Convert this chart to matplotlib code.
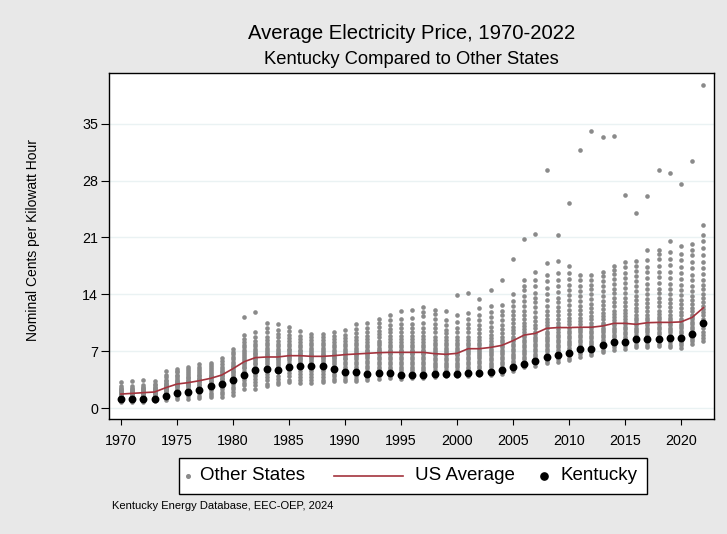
import matplotlib
matplotlib.use("Agg")
import matplotlib.pyplot as plt
from matplotlib.lines import Line2D
from matplotlib.patches import Rectangle

plt.rcParams['font.family'] = ['Liberation Sans', 'DejaVu Sans']

years = list(range(1970, 2023))

kentucky = [1.15, 1.15, 1.15, 1.15, 1.48, 1.89, 1.93, 2.18, 2.71, 2.95,
            3.45, 4.06, 4.63, 4.80, 4.68, 5.09, 5.21, 5.21, 5.17, 4.84,
            4.47, 4.39, 4.18, 4.27, 4.27, 4.06, 4.02, 4.02, 4.14, 4.14,
            4.18, 4.27, 4.27, 4.47, 4.68, 5.05, 5.42, 5.83, 6.32, 6.57,
            6.77, 7.22, 7.30, 7.71, 8.16, 8.16, 8.45, 8.45, 8.53, 8.57,
            8.66, 9.15, 10.5]

us_average = [1.72, 1.80, 1.89, 1.97, 2.50, 2.95, 3.12, 3.36, 3.65, 4.06,
              4.84, 5.70, 6.20, 6.28, 6.28, 6.44, 6.44, 6.36, 6.36, 6.44,
              6.57, 6.65, 6.73, 6.81, 6.85, 6.85, 6.85, 6.85, 6.69, 6.61,
              6.73, 7.30, 7.30, 7.46, 7.71, 8.29, 8.98, 9.19, 9.81, 9.90,
              9.90, 9.94, 9.94, 10.10, 10.42, 10.42, 10.30, 10.50, 10.54, 10.54,
              10.60, 11.16, 12.35]

other_states = [
    [0.7, 0.9, 1.0, 1.1, 1.2, 1.3, 1.4, 1.5, 1.55, 1.6, 1.65, 1.7, 1.75, 1.8, 1.85, 1.9, 2.0, 2.1, 2.2, 2.3, 2.5, 2.7, 3.2],
    [0.75, 0.95, 1.05, 1.15, 1.3, 1.4, 1.5, 1.6, 1.65, 1.7, 1.75, 1.8, 1.85, 1.9, 2.0, 2.1, 2.2, 2.35, 2.5, 2.75, 3.3],
    [0.8, 1.0, 1.1, 1.2, 1.35, 1.45, 1.55, 1.65, 1.7, 1.8, 1.85, 1.9, 2.0, 2.1, 2.2, 2.3, 2.45, 2.6, 2.85, 3.4],
    [0.85, 1.05, 1.15, 1.3, 1.45, 1.55, 1.65, 1.75, 1.85, 1.9, 1.95, 2.0, 2.1, 2.2, 2.3, 2.45, 2.6, 2.8, 3.0, 3.35],
    [0.95, 1.2, 1.4, 1.6, 1.8, 1.95, 2.1, 2.2, 2.3, 2.4, 2.5, 2.6, 2.7, 2.8, 2.95, 3.1, 3.3, 3.5, 3.8, 4.1, 4.5],
    [1.1, 1.4, 1.6, 1.8, 2.0, 2.2, 2.4, 2.6, 2.75, 2.85, 2.95, 3.05, 3.2, 3.35, 3.5, 3.7, 3.9, 4.1, 4.4, 4.6, 4.85],
    [1.15, 1.45, 1.7, 1.9, 2.1, 2.3, 2.5, 2.7, 2.85, 3.0, 3.1, 3.2, 3.35, 3.5, 3.65, 3.85, 4.05, 4.3, 4.55, 4.8, 5.1],
    [1.2, 1.5, 1.8, 2.0, 2.2, 2.45, 2.65, 2.85, 3.0, 3.15, 3.3, 3.45, 3.6, 3.75, 3.9, 4.1, 4.3, 4.55, 4.8, 5.1, 5.45],
    [1.3, 1.6, 1.9, 2.2, 2.4, 2.6, 2.8, 3.0, 3.2, 3.35, 3.5, 3.65, 3.8, 3.95, 4.1, 4.3, 4.5, 4.75, 5.0, 5.3, 5.6],
    [1.4, 1.7, 2.0, 2.3, 2.55, 2.8, 3.0, 3.2, 3.4, 3.6, 3.75, 3.9, 4.05, 4.2, 4.4, 4.6, 4.85, 5.1, 5.4, 5.75, 6.1],
    [1.6, 2.0, 2.3, 2.6, 2.9, 3.2, 3.45, 3.7, 3.95, 4.2, 4.4, 4.6, 4.8, 5.0, 5.2, 5.45, 5.7, 6.0, 6.3, 6.6, 6.9, 7.3],
    [2.4, 2.8, 3.1, 3.4, 3.7, 4.0, 4.3, 4.6, 4.9, 5.1, 5.3, 5.5, 5.7, 5.9, 6.1, 6.35, 6.6, 6.9, 7.2, 7.5, 7.8, 8.1, 8.5, 9.0, 11.2],
    [2.4, 2.8, 3.2, 3.6, 3.9, 4.2, 4.5, 4.8, 5.1, 5.4, 5.6, 5.8, 6.0, 6.2, 6.4, 6.6, 6.8, 7.0, 7.3, 7.6, 7.9, 8.3, 8.7, 9.3, 11.8],
    [2.7, 3.0, 3.4, 3.8, 4.2, 4.5, 4.8, 5.1, 5.4, 5.7, 5.9, 6.1, 6.3, 6.5, 6.7, 6.9, 7.1, 7.4, 7.7, 8.0, 8.4, 8.8, 9.3, 9.8, 10.5],
    [2.9, 3.2, 3.6, 4.0, 4.4, 4.7, 5.0, 5.3, 5.6, 5.8, 6.0, 6.2, 6.4, 6.6, 6.8, 7.0, 7.3, 7.6, 7.9, 8.3, 8.7, 9.1, 9.6, 10.4],
    [3.2, 3.5, 3.9, 4.3, 4.7, 5.0, 5.3, 5.6, 5.9, 6.1, 6.3, 6.5, 6.7, 6.9, 7.1, 7.3, 7.6, 7.9, 8.2, 8.6, 9.0, 9.5, 10.0],
    [3.1, 3.4, 3.8, 4.2, 4.6, 4.9, 5.2, 5.5, 5.8, 6.0, 6.2, 6.4, 6.6, 6.8, 7.0, 7.2, 7.5, 7.8, 8.1, 8.5, 8.9, 9.5],
    [3.1, 3.4, 3.8, 4.2, 4.5, 4.8, 5.1, 5.4, 5.7, 5.9, 6.1, 6.3, 6.5, 6.7, 6.9, 7.1, 7.4, 7.7, 8.0, 8.4, 8.7, 9.1],
    [3.2, 3.5, 3.8, 4.2, 4.5, 4.8, 5.1, 5.4, 5.7, 5.9, 6.1, 6.3, 6.5, 6.7, 6.9, 7.1, 7.4, 7.7, 8.0, 8.4, 8.7, 9.1],
    [3.3, 3.6, 3.9, 4.2, 4.5, 4.8, 5.1, 5.4, 5.7, 5.9, 6.1, 6.3, 6.5, 6.7, 6.9, 7.2, 7.5, 7.8, 8.1, 8.5, 8.9, 9.4],
    [3.3, 3.6, 3.9, 4.2, 4.5, 4.8, 5.1, 5.4, 5.7, 6.0, 6.2, 6.4, 6.6, 6.8, 7.0, 7.3, 7.6, 7.9, 8.2, 8.6, 9.0, 9.6],
    [3.3, 3.6, 3.9, 4.2, 4.5, 4.8, 5.1, 5.4, 5.7, 6.0, 6.3, 6.5, 6.7, 6.9, 7.1, 7.4, 7.7, 8.0, 8.4, 8.8, 9.2, 9.7, 10.4],
    [3.4, 3.7, 4.0, 4.3, 4.6, 4.9, 5.2, 5.5, 5.8, 6.1, 6.4, 6.6, 6.8, 7.0, 7.2, 7.5, 7.8, 8.1, 8.5, 8.9, 9.3, 9.8, 10.5],
    [3.6, 3.9, 4.2, 4.5, 4.8, 5.1, 5.4, 5.7, 6.0, 6.3, 6.6, 6.8, 7.0, 7.2, 7.4, 7.7, 8.0, 8.3, 8.7, 9.1, 9.5, 10.0, 10.5, 11.0],
    [3.65, 3.9, 4.2, 4.5, 4.8, 5.1, 5.4, 5.7, 6.0, 6.3, 6.6, 6.8, 7.0, 7.2, 7.5, 7.8, 8.1, 8.5, 8.9, 9.3, 9.7, 10.2, 10.8, 11.5],
    [3.6, 3.9, 4.2, 4.5, 4.8, 5.1, 5.4, 5.7, 6.0, 6.3, 6.6, 6.8, 7.0, 7.2, 7.5, 7.8, 8.1, 8.5, 8.9, 9.3, 9.8, 10.4, 11.0, 11.9],
    [3.65, 3.9, 4.2, 4.5, 4.8, 5.1, 5.4, 5.7, 6.0, 6.3, 6.6, 6.8, 7.0, 7.2, 7.5, 7.8, 8.1, 8.5, 8.9, 9.3, 9.8, 10.4, 11.1, 12.1],
    [3.65, 3.9, 4.2, 4.5, 4.8, 5.1, 5.4, 5.7, 6.0, 6.3, 6.6, 6.8, 7.0, 7.2, 7.5, 7.8, 8.1, 8.5, 8.9, 9.4, 9.9, 10.5, 11.3, 11.8, 12.4],
    [3.85, 4.1, 4.4, 4.7, 5.0, 5.3, 5.6, 5.9, 6.2, 6.5, 6.7, 6.9, 7.1, 7.4, 7.7, 8.0, 8.4, 8.8, 9.3, 9.8, 10.4, 11.0, 11.6, 12.1],
    [3.9, 4.1, 4.4, 4.7, 5.0, 5.3, 5.6, 5.9, 6.2, 6.5, 6.7, 6.9, 7.1, 7.4, 7.7, 8.0, 8.4, 8.8, 9.2, 9.6, 10.2, 10.8, 11.9],
    [3.9, 4.1, 4.4, 4.7, 5.0, 5.3, 5.6, 5.9, 6.2, 6.5, 6.7, 6.9, 7.1, 7.4, 7.7, 8.0, 8.4, 8.8, 9.3, 9.9, 10.6, 11.4, 13.9],
    [3.95, 4.2, 4.5, 4.8, 5.1, 5.4, 5.7, 6.0, 6.3, 6.6, 6.9, 7.1, 7.4, 7.7, 8.0, 8.4, 8.8, 9.3, 9.8, 10.3, 10.9, 11.7, 14.1],
    [4.05, 4.3, 4.6, 4.9, 5.2, 5.5, 5.8, 6.1, 6.4, 6.7, 6.9, 7.1, 7.4, 7.7, 8.0, 8.4, 8.8, 9.2, 9.7, 10.2, 10.8, 11.5, 12.3, 13.4],
    [4.1, 4.4, 4.7, 5.0, 5.3, 5.6, 5.9, 6.2, 6.5, 6.8, 7.0, 7.3, 7.6, 7.9, 8.2, 8.6, 9.0, 9.5, 10.0, 10.6, 11.2, 11.8, 12.5, 14.5],
    [4.2, 4.5, 4.8, 5.1, 5.4, 5.7, 6.0, 6.3, 6.6, 6.9, 7.2, 7.5, 7.8, 8.1, 8.4, 8.8, 9.2, 9.7, 10.2, 10.8, 11.4, 12.0, 12.7, 15.8],
    [4.6, 4.9, 5.2, 5.5, 5.8, 6.1, 6.4, 6.7, 7.0, 7.3, 7.6, 7.9, 8.2, 8.5, 8.8, 9.2, 9.6, 10.0, 10.5, 11.0, 11.5, 12.0, 12.6, 13.2, 14.0, 18.4],
    [5.1, 5.4, 5.7, 6.0, 6.3, 6.6, 6.9, 7.2, 7.5, 7.8, 8.1, 8.4, 8.7, 9.0, 9.3, 9.7, 10.1, 10.5, 11.0, 11.5, 12.0, 12.6, 13.2, 13.8, 14.5, 15.0, 15.7, 20.8],
    [5.2, 5.5, 5.8, 6.1, 6.4, 6.7, 7.0, 7.3, 7.6, 7.9, 8.2, 8.5, 8.8, 9.1, 9.4, 9.8, 10.2, 10.7, 11.2, 11.8, 12.4, 13.0, 13.6, 14.2, 15.0, 15.8, 16.7, 21.4],
    [5.5, 5.8, 6.1, 6.4, 6.7, 7.0, 7.3, 7.6, 7.9, 8.2, 8.5, 8.8, 9.1, 9.4, 9.8, 10.2, 10.6, 11.0, 11.5, 12.0, 12.6, 13.3, 14.0, 14.8, 15.6, 16.4, 17.9, 29.3],
    [5.7, 6.0, 6.3, 6.6, 6.9, 7.2, 7.5, 7.8, 8.1, 8.4, 8.7, 9.0, 9.3, 9.7, 10.1, 10.5, 10.9, 11.4, 11.9, 12.4, 13.0, 13.6, 14.3, 15.0, 15.8, 16.6, 18.1, 21.3],
    [5.9, 6.2, 6.5, 6.8, 7.1, 7.4, 7.7, 8.0, 8.3, 8.6, 8.9, 9.2, 9.5, 9.9, 10.3, 10.7, 11.1, 11.6, 12.1, 12.7, 13.3, 13.9, 14.5, 15.2, 15.9, 16.6, 17.5, 25.2],
    [6.3, 6.6, 6.9, 7.2, 7.5, 7.8, 8.1, 8.4, 8.7, 9.0, 9.3, 9.6, 9.9, 10.3, 10.7, 11.1, 11.6, 12.1, 12.6, 13.2, 13.8, 14.4, 15.0, 15.7, 16.4, 31.7],
    [6.5, 6.8, 7.1, 7.4, 7.7, 8.0, 8.3, 8.6, 8.9, 9.2, 9.5, 9.8, 10.1, 10.5, 10.9, 11.3, 11.8, 12.3, 12.8, 13.4, 14.0, 14.6, 15.2, 15.8, 16.4, 34.1],
    [6.9, 7.2, 7.5, 7.8, 8.1, 8.4, 8.7, 9.0, 9.3, 9.6, 9.9, 10.2, 10.5, 10.9, 11.3, 11.7, 12.2, 12.7, 13.2, 13.8, 14.4, 15.0, 15.6, 16.2, 16.7, 33.3],
    [7.2, 7.5, 7.8, 8.1, 8.4, 8.7, 9.0, 9.3, 9.6, 9.9, 10.2, 10.5, 10.8, 11.2, 11.6, 12.0, 12.5, 13.0, 13.5, 14.1, 14.7, 15.3, 15.9, 16.5, 17.0, 17.5, 33.5],
    [7.3, 7.6, 7.9, 8.2, 8.5, 8.8, 9.1, 9.4, 9.7, 10.0, 10.3, 10.6, 10.9, 11.3, 11.7, 12.1, 12.6, 13.1, 13.6, 14.2, 14.8, 15.4, 16.0, 16.6, 17.3, 18.0, 26.2],
    [7.5, 7.8, 8.1, 8.4, 8.7, 9.0, 9.3, 9.6, 9.9, 10.2, 10.5, 10.8, 11.1, 11.5, 11.9, 12.3, 12.8, 13.3, 13.8, 14.4, 15.0, 15.6, 16.2, 16.9, 17.5, 18.1, 24.0],
    [7.5, 7.8, 8.1, 8.4, 8.7, 9.0, 9.3, 9.6, 9.9, 10.2, 10.5, 10.8, 11.1, 11.5, 11.9, 12.4, 12.9, 13.4, 14.0, 14.6, 15.3, 16.0, 16.7, 17.4, 18.2, 19.5, 26.1],
    [7.6, 7.9, 8.2, 8.5, 8.8, 9.1, 9.4, 9.7, 10.0, 10.3, 10.6, 10.9, 11.2, 11.6, 12.0, 12.5, 13.0, 13.5, 14.1, 14.7, 15.4, 16.1, 16.8, 17.5, 18.3, 19.0, 19.5, 29.3],
    [7.5, 7.8, 8.1, 8.4, 8.7, 9.0, 9.3, 9.6, 9.9, 10.2, 10.5, 10.8, 11.1, 11.5, 11.9, 12.4, 12.9, 13.4, 14.0, 14.6, 15.3, 16.0, 16.8, 17.6, 18.4, 19.2, 20.5, 28.9],
    [7.4, 7.7, 8.0, 8.3, 8.6, 8.9, 9.2, 9.5, 9.8, 10.1, 10.4, 10.7, 11.0, 11.4, 11.8, 12.3, 12.8, 13.3, 13.9, 14.5, 15.2, 15.9, 16.6, 17.4, 18.2, 19.0, 19.9, 27.6],
    [7.9, 8.2, 8.5, 8.8, 9.1, 9.4, 9.7, 10.0, 10.3, 10.6, 10.9, 11.2, 11.5, 11.9, 12.3, 12.8, 13.3, 13.8, 14.4, 15.0, 15.7, 16.4, 17.2, 18.0, 18.8, 19.5, 20.2, 30.4],
    [8.2, 8.6, 9.0, 9.4, 9.8, 10.2, 10.6, 11.0, 11.4, 11.8, 12.2, 12.6, 13.0, 13.5, 14.0, 14.6, 15.2, 15.8, 16.5, 17.2, 18.0, 18.8, 19.7, 20.6, 21.3, 22.5, 39.8],
]

y_ticks = [0, 7, 14, 21, 28, 35]
x_ticks = [1970, 1975, 1980, 1985, 1990, 1995, 2000, 2005, 2010, 2015, 2020]
legend_labels = ['Other States', 'US Average', 'Kentucky']

BG = '#e8e8e8'
GRID = '#eaf2f3'
GRAY = '#8a8a8a'
RED = '#a3333d'

W, H = 727, 534


def fx(px):
    return px / W


def fy(py):
    return 1 - py / H


fig = plt.figure(figsize=(W / 100, H / 100), dpi=100, facecolor=BG)
ax = fig.add_axes([fx(109.3), fy(419.3), (714.3 - 109.3) / W, (419.3 - 73.3) / H])
ax.set_facecolor('white')

ox, oy = [], []
for yr, vals in zip(years, other_states):
    ox.extend([yr] * len(vals))
    oy.extend(vals)
ax.scatter(ox, oy, s=11, color=GRAY, linewidths=0, zorder=2)
ax.plot(years, us_average, color=RED, lw=1.2, zorder=3)
ax.scatter(years, kentucky, s=32, color='black', linewidths=0, zorder=4)

ax.set_xlim(1968.96, 2022.97)
ax.set_ylim(-1.39, 41.2)
ax.set_yticks(y_ticks)
ax.set_xticks(x_ticks)
ax.grid(axis='y', color=GRID, lw=1.0, zorder=0)
ax.set_axisbelow(True)
for s in ax.spines.values():
    s.set_color('black')
    s.set_linewidth(1.0)
ax.tick_params(axis='y', length=5.5, width=0.8, pad=2.5, labelsize=10.3)
ax.tick_params(axis='x', length=4.5, width=0.8, pad=6, labelsize=10.3)

fig.text(fx(412), fy(33.5), 'Average Electricity Price, 1970-2022',
         ha='center', va='center', fontsize=14.6)
fig.text(fx(411), fy(59), 'Kentucky Compared to Other States',
         ha='center', va='center', fontsize=13.2)
fig.text(fx(33), fy(240), 'Nominal Cents per Kilowatt Hour',
         ha='center', va='center', rotation=90, fontsize=10)
fig.text(fx(112), fy(506), 'Kentucky Energy Database, EEC-OEP, 2024',
         ha='left', va='center', fontsize=8)

# Legend box drawn in figure pixel positions
leg_top, leg_bot = 457.5, 493.5
leg_mid = (leg_top + leg_bot) / 2
fig.add_artist(Rectangle((fx(178.5), fy(leg_bot)), (646.5 - 178.5) / W,
                         (leg_bot - leg_top) / H, transform=fig.transFigure,
                         facecolor='white', edgecolor='black', lw=1.0))
fig.add_artist(Line2D([fx(188)], [fy(leg_mid)], transform=fig.transFigure,
                      marker='o', ls='none', color=GRAY, markersize=2.6))
fig.add_artist(Line2D([fx(333.5), fx(402.5)], [fy(leg_mid), fy(leg_mid)],
                      transform=fig.transFigure, color=RED, lw=1.2))
fig.add_artist(Line2D([fx(544)], [fy(leg_mid)], transform=fig.transFigure,
                      marker='o', ls='none', color='black', markersize=5.2))
for lx, lab in zip([200, 414.5, 560], legend_labels):
    fig.text(fx(lx), fy(leg_mid), lab, ha='left', va='center', fontsize=13.5)

fig.savefig('out.png', dpi=100, facecolor=BG)
